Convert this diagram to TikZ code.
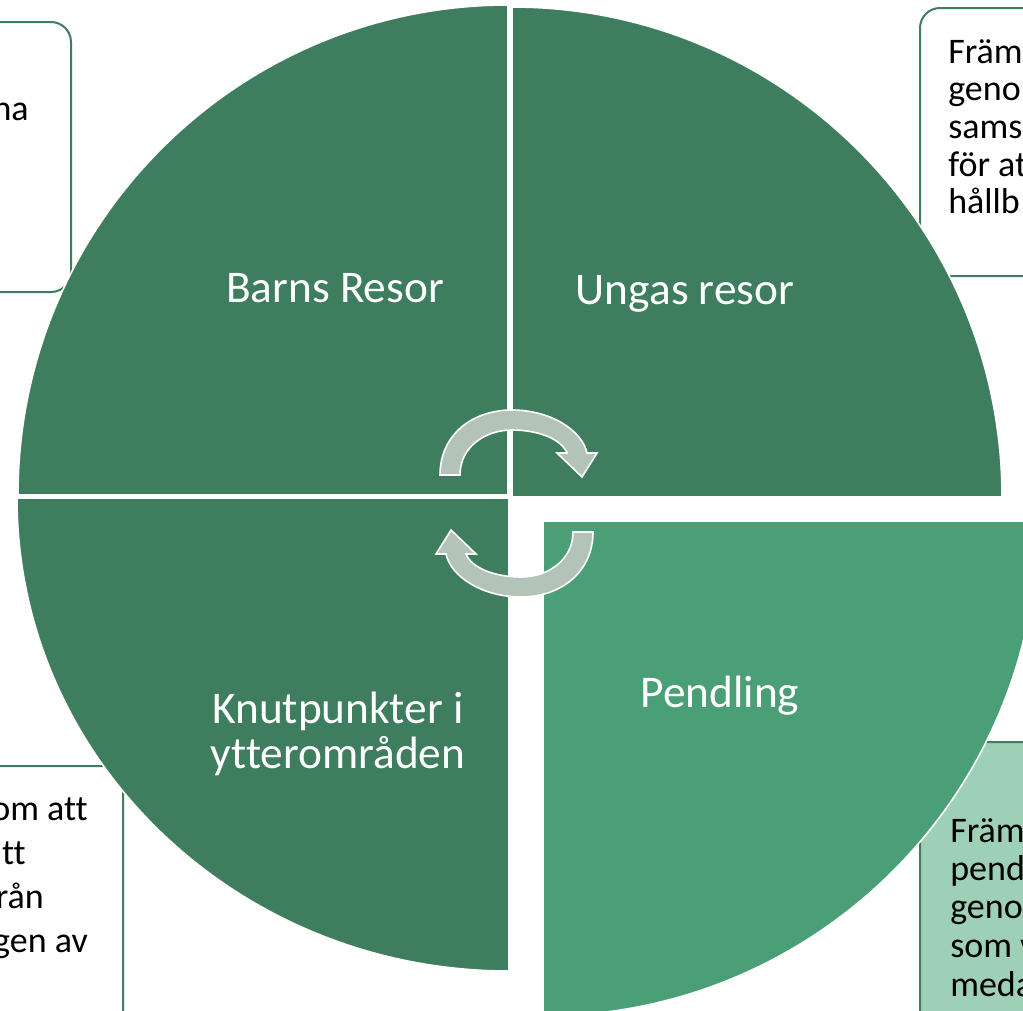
\documentclass[tikz,border=0pt]{standalone}
\usepackage{fontspec}
\setmainfont{Carlito}[Ligatures=NoCommon]
\definecolor{quadgreen}{HTML}{3E7E5E}
\definecolor{pendgreen}{HTML}{4A9F76}
\definecolor{boxmint}{HTML}{9DD0B6}
\definecolor{arrowgray}{HTML}{B3C3B8}
\tikzset{
  wedge/.style={fill=quadgreen,draw=white,line width=1.2pt},
  infobox/.style={draw=quadgreen,fill=white,line width=1.5pt,rounded corners=15pt},
  bigtext/.style={text=white,font=\fontsize{34}{34}\selectfont,align=center},
  boxtext/.style={text=black,font=\fontsize{27}{28}\selectfont,inner sep=0pt},
  cyclearrow/.style={fill=arrowgray,draw=white,line width=1.2pt,line join=miter}
}
\begin{document}
\begin{tikzpicture}[x=0.75pt,y=-0.75pt]
  \useasboundingbox (0,0) rectangle (1023,1010);
  \clip (0,0) rectangle (1023,1010);
  \fill[white] (0,0) rectangle (1023,1010);
  % side boxes
  \draw[infobox] (-30,22) rectangle (71,292);
  \draw[infobox] (920,8) rectangle (1060,276);
  \draw[infobox] (-30,766) rectangle (123,1040);
  \draw[infobox,fill=boxmint] (920,742) rectangle (1060,1040);
  \node[boxtext,anchor=base east] (tlline) at (29,120) {na};
  \node[boxtext,anchor=base west] (trone) at (948,63) {Främ};
  \node[boxtext,anchor=base west] (trtwo) at (948,100) {geno};
  \node[boxtext,anchor=base west] (trthree) at (948,138) {sams};
  \node[boxtext,anchor=base west] (trfour) at (948,176) {för at};
  \node[boxtext,anchor=base west] (trfive) at (948,213) {hållb};
  \node[boxtext,anchor=base east] (blone) at (88,820) {om att};
  \node[boxtext,anchor=base east] (bltwo) at (26,864) {tt};
  \node[boxtext,anchor=base east] (blthree) at (44,908) {rån};
  \node[boxtext,anchor=base east] (blfour) at (88,952) {gen av};
  \node[boxtext,anchor=base west] (brone) at (950,842) {Främ};
  \node[boxtext,anchor=base west] (brtwo) at (950,880) {pend};
  \node[boxtext,anchor=base west] (brthree) at (950,918) {geno};
  \node[boxtext,anchor=base west] (brfour) at (950,957) {som v};
  \node[boxtext,anchor=base west] (brfive) at (950,996) {meda};
  % quarter circles
  \draw[wedge] (508,495) -- (18,495) arc[start angle=180,end angle=270,radius=490] -- cycle;
  \draw[wedge] (512,497) -- (512,7) arc[start angle=270,end angle=360,radius=490] -- cycle;
  \draw[wedge] (509,498) -- (509,971)
    arc[start angle=90,end angle=180,x radius=492,y radius=473] -- cycle;
  \draw[wedge,fill=pendgreen] (543,521) -- (1038,521)
    arc[start angle=0,end angle=90,radius=495] -- cycle;
  \node[bigtext,anchor=base] (barns) at (335,302) {Barns Resor};
  \node[bigtext,anchor=base] (ungas) at (685,304) {Ungas resor};
  \node[bigtext] (knut) at (338,734) {Knutpunkter i\\ytterområden};
  \node[bigtext,anchor=base] (pend) at (720,707) {Pendling};
  % cycle arrows
  \draw[cyclearrow] (440,475) .. controls (440,435) and (472,410) .. (512,410)
    .. controls (550,410) and (582,430) .. (587,453) -- (597,453) -- (582,477)
    -- (557,453) -- (567,453) .. controls (562,440) and (540,430) .. (512,430)
    .. controls (485,430) and (460,447) .. (460,475) -- cycle;
  \draw[cyclearrow,rotate around={180:(516.5,503.5)}] (440,475)
    .. controls (440,435) and (472,410) .. (512,410)
    .. controls (550,410) and (582,430) .. (587,453) -- (597,453) -- (582,477)
    -- (557,453) -- (567,453) .. controls (562,440) and (540,430) .. (512,430)
    .. controls (485,430) and (460,447) .. (460,475) -- cycle;
\end{tikzpicture}
\end{document}
